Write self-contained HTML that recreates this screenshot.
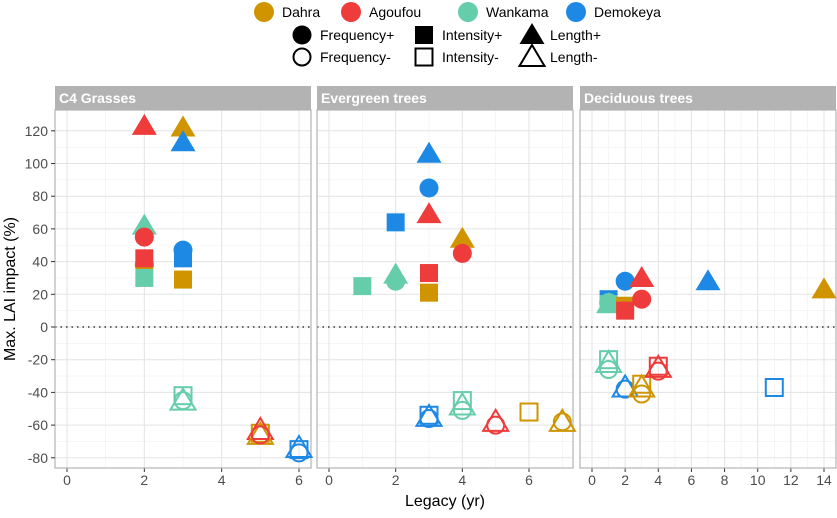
<!DOCTYPE html>
<html><head><meta charset="utf-8"><style>
body{margin:0;background:#fff;font-family:"Liberation Sans",Arial,sans-serif}
</style></head><body>
<svg id="chart" width="837" height="513" xmlns="http://www.w3.org/2000/svg" font-family="Liberation Sans, Arial, sans-serif"></svg>
<script>
const sites=["Dahra","Agoufou","Wankama","Demokeya"];
const siteColors=["#CF9400","#EE3B3B","#66CDAA","#1E88E5"];
const panels=["C4 Grasses","Evergreen trees","Deciduous trees"];
const panelXMax=[6,6.96,14];
const panelXTicks=[[0,2,4,6],[0,2,4,6],[0,2,4,6,8,10,12,14]];
const yTicks=[-80,-60,-40,-20,0,20,40,60,80,100,120];
const pPanel=[0,0,0,0,0,0,0,0,0,0,0,0,0,0,0,0,0,0,0,0,0,0,
1,1,1,1,1,1,1,1,1,1,1,1,1,1,1,1,1,1,1,1,1,1,
2,2,2,2,2,2,2,2,2,2,2,2,2,2,2,2,2,2,2,2,2,2,2];
const pSite=[0,1,0,3,2,1,0,1,2,3,3,0,2,2,2,0,1,0,1,3,3,3,
3,3,1,3,0,1,1,2,2,2,0,3,3,3,2,2,2,1,1,0,0,0,
3,2,2,2,3,0,1,1,1,3,0,2,2,2,3,3,0,0,0,1,1,1,3];
const pShape=["c","t","t","t","t","c","c","s","s","c","s","s","s","t","c","s","t","t","c","s","t","c",
"t","c","t","s","t","c","s","t","c","s","s","s","c","t","s","t","c","t","c","s","c","t",
"s","c","s","t","c","s","s","t","c","t","t","s","t","c","t","c","s","t","c","s","t","c","s"];
const pFill=[1,1,1,1,1,1,1,1,1,1,1,1,0,0,0,0,0,0,0,0,0,0,
1,1,1,1,1,1,1,1,1,1,1,0,0,0,0,0,0,0,0,0,0,0,
1,1,1,1,1,1,1,1,1,1,1,0,0,0,0,0,0,0,0,0,0,0,0];
const pX=[2,2,3,3,2,2,2,2,2,3,3,3,3,3,3,5,5,5,5,6,6,6,
3,3,3,2,4,4,3,2,2,1,3,3,3,3,4,4,4,5,5,6,7,7,
1,1,1,1,2,2,2,3,3,7,14,1,1,1,2,2,3,3,3,4,4,4,11];
const pY=[38,123,122,113,62,55,38,42,30,47,42,29,-42,-45,-45,-65,-63,-66,-66,-75,-74,-77,
106,85,69,64,54,45,33,32,28,25,21,-54,-56,-55,-45,-48,-51,-58,-60,-52,-58,-58,
17,15,14,14,28,13,10,30,17,28,23,-20,-22,-26,-37,-38,-35,-37,-41,-24,-25,-27,-37];
const NS="http://www.w3.org/2000/svg";
const svg=document.getElementById("chart");
function mk(t,a,p){const e=document.createElementNS(NS,t);for(const k in a)e.setAttribute(k,a[k]);(p||svg).appendChild(e);return e;}
const panelX0=[55,317,580], panelW=256, pTop=110, pBot=468;
function yS(v){return 327-v*1.635;}
function xS(i,v){const l=panelX0[i]+12, r=panelX0[i]+panelW-12;return l+(r-l)*v/(panelXMax[i]);}
function shape(g,sh,cx,cy,col,fill){
 let e;
 if(sh==="c") e=mk("circle",{cx:cx,cy:cy,r:fill?9.5:8.5},g);
 else if(sh==="s") e=mk("rect",{x:cx-(fill?9:8.5),y:cy-(fill?9:8.5),width:fill?18:17,height:fill?18:17},g);
 else e=mk("polygon",{points:`${cx},${cy-12} ${cx+12.5},${cy+9} ${cx-12.5},${cy+9}`},g);
 if(fill){e.setAttribute("fill",col);}else{e.setAttribute("fill","none");e.setAttribute("stroke",col);e.setAttribute("stroke-width","2");}
 return e;
}
panels.forEach((pname,i)=>{
 const g=mk("g",{});
 
 
 const x0=panelX0[i];
 mk("rect",{x:x0,y:pTop,width:panelW,height:pBot-pTop,fill:"#fff"},g);
 for(let k=0;k<yTicks.length-1;k++){const v=(yTicks[k]+yTicks[k+1])/2;mk("line",{x1:x0,x2:x0+panelW,y1:yS(v),y2:yS(v),stroke:"#f0f0f0","stroke-width":0.6},g);}
 const xt=panelXTicks[i];
 for(let k=0;k<xt.length;k++){const v=xt[k]+(xt[1]-xt[0])/2;if(v<=panelXMax[i]+0.5)mk("line",{x1:xS(i,v),x2:xS(i,v),y1:pTop,y2:pBot,stroke:"#f0f0f0","stroke-width":0.6},g);}
 yTicks.forEach(v=>mk("line",{x1:x0,x2:x0+panelW,y1:yS(v),y2:yS(v),stroke:"#e3e3e3","stroke-width":1},g));
 xt.forEach(v=>{mk("line",{x1:xS(i,v),x2:xS(i,v),y1:pTop,y2:pBot,stroke:"#e3e3e3","stroke-width":1},g);
  mk("line",{x1:xS(i,v),x2:xS(i,v),y1:pBot,y2:pBot+4,stroke:"#333"},g);
  const t=mk("text",{x:xS(i,v),y:pBot+17,"text-anchor":"middle","font-size":14,fill:"#4d4d4d"},g);t.textContent=v;
  });
 mk("line",{x1:x0,x2:x0+panelW,y1:yS(0),y2:yS(0),stroke:"#333","stroke-width":1.5,"stroke-dasharray":"1.5,4"},g);
 mk("rect",{x:x0,y:pTop,width:panelW,height:pBot-pTop,fill:"none",stroke:"#b3b3b3","stroke-width":1.2},g);
 const s=mk("rect",{x:x0,y:86,width:panelW,height:24,fill:"#b3b3b3"},g);
 
 const st=mk("text",{x:x0+4,y:103,"font-size":14,"font-weight":"bold",fill:"#fff"},g);st.textContent=pname;
 
});
yTicks.forEach(v=>{mk("line",{x1:51,x2:55,y1:yS(v),y2:yS(v),stroke:"#333"});
 const t=mk("text",{x:48,y:yS(v)+5,"text-anchor":"end","font-size":14,fill:"#4d4d4d"});t.textContent=v;
 });
const yt=mk("text",{x:0,y:0,transform:"translate(15,289) rotate(-90)","text-anchor":"middle","font-size":16,fill:"#000"});yt.textContent="Max. LAI impact (%)";

const xtt=mk("text",{x:445,y:506,"text-anchor":"middle","font-size":16,fill:"#000"});xtt.textContent="Legacy (yr)";

for(let k=0;k<pX.length;k++){
 const e=shape(svg,pShape[k],xS(pPanel[k],pX[k]),yS(pY[k]),siteColors[pSite[k]],pFill[k]);
 
 
}
const lg=mk("g",{});

const lx=[264,351,468,576];
sites.forEach((s,i)=>{mk("circle",{cx:lx[i],cy:12,r:10,fill:siteColors[i]},lg);
 const t=mk("text",{x:lx[i]+18,y:17,"font-size":14},lg);t.textContent=s;
 });
const lrow=[["c","Frequency",302],["s","Intensity",424],["t","Length",532]];
lrow.forEach(r=>{[[1,"+",35],[0,"-",57]].forEach(f=>{
 shape(lg,r[0],r[2],f[2],"#000",f[0]);
 const t=mk("text",{x:r[2]+18,y:f[2]+5,"font-size":14},lg);t.textContent=r[1]+f[1];
 });});
</script>
</body></html>
